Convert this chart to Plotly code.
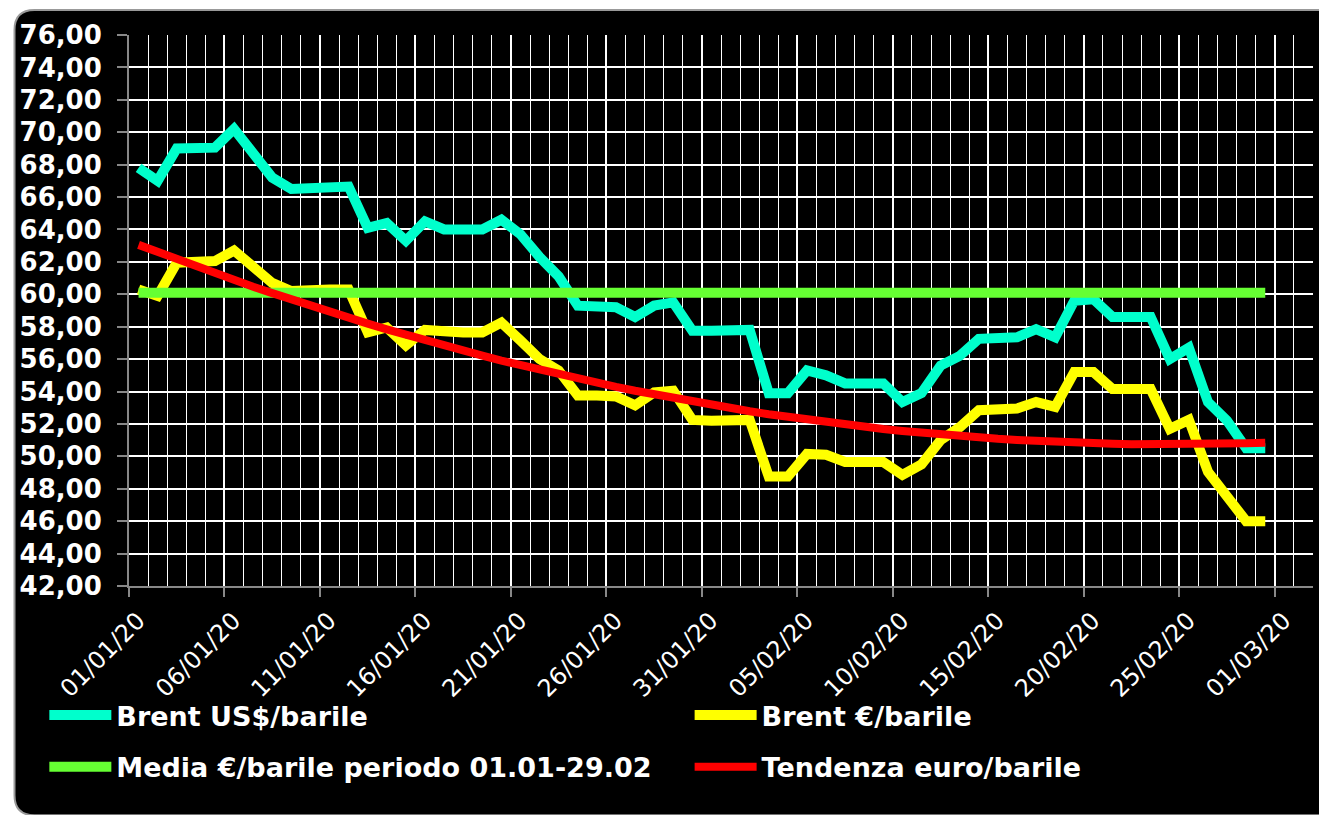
import pandas as pd
import plotly.graph_objects as go

# Daily values 01/01/2020 - 29/02/2020
days = pd.date_range("2020-01-01 12:00", periods=60, freq="D")

brent_usd = [67.8, 67.0, 69.0, 69.0, 69.05, 70.2, 68.6, 67.2, 66.5, 66.6,
             66.6, 66.65, 64.1, 64.4, 63.3, 64.5, 64.0, 64.0, 64.0, 64.6,
             63.7, 62.3, 61.1, 59.3, 59.2, 59.2, 58.6, 59.3, 59.5, 57.75,
             57.75, 57.75, 57.8, 53.9, 53.9, 55.3, 55.0, 54.5, 54.5, 54.5,
             53.35, 53.9, 55.6, 56.2, 57.25, 57.25, 57.35, 57.85, 57.35, 59.6,
             59.7, 58.6, 58.6, 58.6, 56.0, 56.7, 53.35, 52.2, 50.5, 50.5]

brent_eur = [60.3, 59.9, 61.95, 61.95, 62.05, 62.7, 61.6, 60.7, 60.2, 60.3,
             60.3, 60.3, 57.65, 57.95, 56.85, 57.8, 57.65, 57.65, 57.65, 58.25,
             57.15, 56.0, 55.3, 53.75, 53.75, 53.7, 53.15, 53.95, 54.05, 52.25,
             52.2, 52.2, 52.25, 48.75, 48.75, 50.15, 50.1, 49.65, 49.65, 49.65,
             48.85, 49.5, 51.0, 51.8, 52.85, 52.85, 52.95, 53.35, 53.05, 55.2,
             55.2, 54.15, 54.15, 54.15, 51.7, 52.25, 49.05, 47.5, 46.0, 46.0]

media_eur = [60.1] * 60

tendenza_eur = [63.05, 62.60, 62.15, 61.72, 61.29, 60.88, 60.47, 60.07, 59.67, 59.29,
                58.91, 58.55, 58.19, 57.84, 57.49, 57.16, 56.84, 56.52, 56.21, 55.91,
                55.62, 55.34, 55.06, 54.80, 54.54, 54.29, 54.05, 53.82, 53.59, 53.38,
                53.17, 52.97, 52.78, 52.60, 52.43, 52.26, 52.11, 51.96, 51.82, 51.69,
                51.57, 51.45, 51.35, 51.25, 51.16, 51.08, 51.01, 50.94, 50.89, 50.84,
                50.81, 50.78, 50.75, 50.74, 50.74, 50.74, 50.76, 50.78, 50.81, 50.84]

fig = go.Figure()
fig.add_trace(go.Scatter(x=days, y=brent_usd, mode="lines", name="Brent US$/barile",
                         line=dict(color="#00FFCC", width=10), legend="legend"))
fig.add_trace(go.Scatter(x=days, y=brent_eur, mode="lines", name="Brent €/barile",
                         line=dict(color="#FFFF00", width=10), legend="legend2"))
fig.add_trace(go.Scatter(x=days, y=media_eur, mode="lines",
                         name="Media €/barile periodo 01.01-29.02",
                         line=dict(color="#66FF33", width=10), legend="legend3"))
fig.add_trace(go.Scatter(x=days, y=tendenza_eur, mode="lines", name="Tendenza euro/barile",
                         line=dict(color="#FF0000", width=8), legend="legend4"))

# black rounded panel behind everything (paper coords)
x0, x1, y0, y1 = -0.0967, 1.021, -0.416, 1.0453
rx, ry = 0.0168, 0.0362
panel = (f"M {x0+rx},{y1} L {x1-rx},{y1} Q {x1},{y1} {x1},{y1-ry} "
         f"L {x1},{y0+ry} Q {x1},{y0} {x1-rx},{y0} L {x0+rx},{y0} "
         f"Q {x0},{y0} {x0},{y0+ry} L {x0},{y1-ry} Q {x0},{y1} {x0+rx},{y1} Z")
fig.add_shape(type="path", path=panel, xref="paper", yref="paper",
              fillcolor="black", line=dict(color="#999999", width=2), layer="below")

legend_style = dict(orientation="h", xanchor="left", yanchor="middle",
                    bgcolor="rgba(0,0,0,0)", itemwidth=62,
                    font=dict(family="DejaVu Sans", size=27, color="white", weight="bold"))

# page has an 8px body margin, so the figure is sized 8px smaller
fig.update_layout(
    width=1319, height=807,
    margin=dict(l=116, r=14, t=26, b=229),
    paper_bgcolor="white",
    plot_bgcolor="black",
    separators=", ",
    showlegend=True,
    legend=dict(x=-0.0715, y=-0.235, **legend_style),
    legend2=dict(x=0.4735, y=-0.235, **legend_style),
    legend3=dict(x=-0.0715, y=-0.329, **legend_style),
    legend4=dict(x=0.4735, y=-0.329, **legend_style),
    xaxis=dict(
        type="date",
        range=["2020-01-01", "2020-03-03"],
        tick0="2020-01-01", dtick=5 * 86400000,
        tickformat="%d/%m/%y", tickangle=-45,
        tickfont=dict(family="DejaVu Sans", size=24, color="white"),
        ticklabelshift=9,
        ticks="outside", ticklen=9, tickcolor="#888888", tickwidth=2,
        showline=True, linecolor="#888888", linewidth=2,
        showgrid=True, gridcolor="white", gridwidth=2,
        minor=dict(dtick=86400000, showgrid=True, gridcolor="white", gridwidth=1),
        zeroline=False,
    ),
    yaxis=dict(
        range=[42, 76], dtick=2, tickformat=".2f",
        tickfont=dict(family="DejaVu Sans", size=26, color="white", weight="bold"),
        ticks="outside", ticklen=10, tickcolor="#888888", tickwidth=2,
        ticklabelstandoff=10,
        showline=True, linecolor="#888888", linewidth=2,
        showgrid=True, gridcolor="white", gridwidth=1.5,
        zeroline=False,
    ),
)

fig.write_html("out.html")
